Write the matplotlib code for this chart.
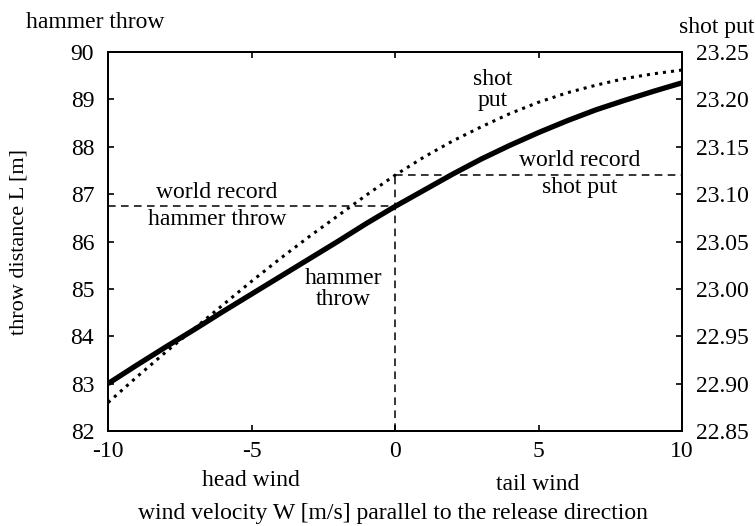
import numpy as np
import matplotlib
matplotlib.use("Agg")
import matplotlib.pyplot as plt

plt.rcParams["font.family"] = ["Liberation Serif", "DejaVu Serif"]
plt.rcParams["font.size"] = 17

# Wind velocity W [m/s] and computed throw distances
wind = [-10, -9, -8, -7, -6, -5, -4, -3, -2, -1, 0, 1, 2, 3, 4, 5, 6, 7, 8, 9, 10]
hammer = [83.00, 83.39, 83.77, 84.14, 84.52, 84.89, 85.26, 85.63, 86.00, 86.38, 86.74,
          87.08, 87.42, 87.74, 88.03, 88.30, 88.55, 88.78, 88.98, 89.17, 89.35]
shot = [22.880, 22.907, 22.933, 22.958, 22.983, 23.008, 23.032, 23.055, 23.077, 23.099, 23.120,
        23.139, 23.156, 23.171, 23.185, 23.197, 23.207, 23.215, 23.222, 23.227, 23.231]

wr_hammer = 86.74
wr_shot = 23.12

fig = plt.figure(figsize=(7.56, 5.26), dpi=100)
ax = fig.add_axes([0.1429, 0.1806, 0.7593, 0.7205])
ax2 = ax.twinx()

ax.plot(wind, hammer, "k-", lw=3.8, solid_capstyle="butt", solid_joinstyle="round")
ax2.plot(wind, shot, "k:", lw=2.2)

# world record reference lines
ax.plot([-10, 0], [wr_hammer, wr_hammer], "k--", lw=1.1, dashes=(5, 3.5))
ax2.plot([0, 10], [wr_shot, wr_shot], "k--", lw=1.1, dashes=(5, 3.5))
ax2.plot([0, 0], [22.85, wr_shot], "k--", lw=1.1, dashes=(5, 3.5))

ax.set_xlim(-10, 10)
ax.set_ylim(82, 90)
ax2.set_ylim(22.85, 23.25)
ax.set_xticks([-10, -5, 0, 5, 10])
ax.set_xticklabels(["-10", "-5", "0", "5", "10"])
ax.set_yticks(range(82, 91))
right_ticks = [22.85, 22.90, 22.95, 23.00, 23.05, 23.10, 23.15, 23.20, 23.25]
ax2.set_yticks(right_ticks)
ax2.set_yticklabels([f"{v:.2f}" for v in right_ticks])

ax.tick_params(axis="y", direction="in", length=4, width=1.2, right=False, pad=10)
ax.tick_params(axis="x", direction="in", length=4, width=1.2, top=True, pad=7)
ax2.tick_params(direction="in", length=4, width=1.2, pad=10)
for a in (ax, ax2):
    for s in a.spines.values():
        s.set_linewidth(1.4)

ax.set_ylabel("throw distance L [m]", fontsize=16)
ax.yaxis.set_label_coords(-0.138, 0.5)

ax.text(-6.2, wr_hammer + 0.08, "world record", ha="center", va="bottom")
ax.text(-6.2, wr_hammer - 0.05, "hammer throw", ha="center", va="top")
ax2.text(6.45, wr_shot + 0.004, "world record", ha="center", va="bottom")
ax2.text(6.45, wr_shot - 0.002, "shot put", ha="center", va="top")
ax.text(3.4, 89.2, "shot\nput", ha="center", va="center", linespacing=1.05)
ax.text(-1.8, 85.0, "hammer\nthrow", ha="center", va="center", linespacing=1.0)

fig.text(26 / 756, 1 - 22 / 526, "hammer throw", ha="left", va="center")
fig.text(754 / 756, 1 - 28 / 526, "shot put", ha="right", va="center")
fig.text(251 / 756, 1 - 480 / 526, "head wind", ha="center", va="center")
fig.text(538 / 756, 1 - 485 / 526, "tail wind", ha="center", va="center")
fig.text(393 / 756, 1 - 513 / 526, "wind velocity W [m/s] parallel to the release direction",
         ha="center", va="center")

fig.savefig("out.png", dpi=100)
